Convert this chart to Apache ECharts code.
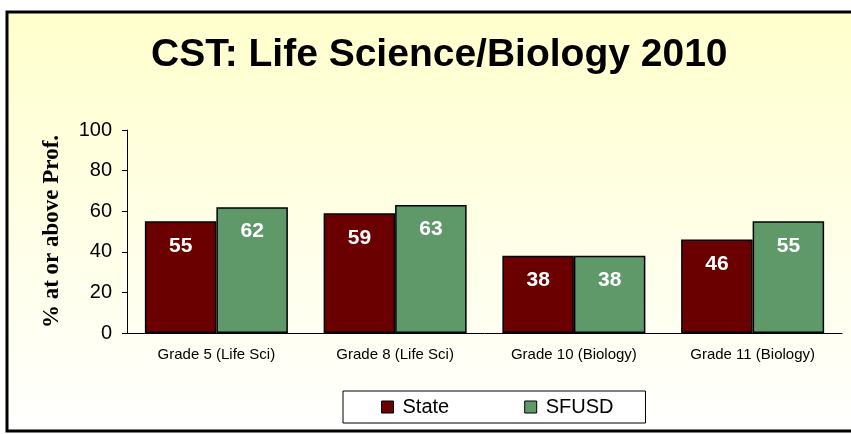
<!DOCTYPE html>
<html>
<head>
<meta charset="utf-8">
<script src="https://cdn.jsdelivr.net/npm/echarts@6/dist/echarts.min.js"></script>
<style>
  html, body { margin: 0; padding: 0; background: #ffffff; }
  #chart { width: 851px; height: 434px; }
</style>
</head>
<body>
<div id="chart"></div>
<script>
// Percent of students scoring at or above Proficient, CST Life Science/Biology 2010
const categories = ['Grade 5 (Life Sci)', 'Grade 8 (Life Sci)', 'Grade 10 (Biology)', 'Grade 11 (Biology)'];
const stateValues = [55, 59, 38, 46];
const sfusdValues = [62, 63, 38, 55];
const yTicks = [0, 20, 40, 60, 80, 100];

const chart = echarts.init(document.getElementById('chart'));

const barLabel = {
  show: true,
  position: 'insideTop',
  distance: 14,
  color: '#ffffff',
  fontFamily: 'Liberation Sans, Arial, sans-serif',
  fontWeight: 'bold',
  fontSize: 21
};

chart.setOption({
  backgroundColor: '#ffffff',
  graphic: [{
    type: 'rect',
    z: -10,
    silent: true,
    shape: { x: 7, y: 12, width: 850, height: 419 },
    style: {
      fill: new echarts.graphic.LinearGradient(0, 0, 0, 1, [
        { offset: 0, color: '#ffffcc' },
        { offset: 1, color: '#ffffff' }
      ]),
      stroke: '#000000',
      lineWidth: 3
    }
  }],
  title: {
    text: 'CST: Life Science/Biology 2010',
    left: 146,
    top: 31,
    textStyle: {
      fontFamily: 'Liberation Sans, Arial, sans-serif',
      fontWeight: 'bold',
      fontSize: 39,
      color: '#000000'
    }
  },
  legend: {
    data: ['State', 'SFUSD'],
    left: 343,
    top: 391,
    itemGap: 75,
    padding: [6, 32, 6, 38],
    borderColor: '#000000',
    borderWidth: 1,
    backgroundColor: '#ffffff',
    itemWidth: 12,
    itemHeight: 12,
    icon: 'rect',
    itemStyle: { borderColor: '#000000', borderWidth: 1 },
    textStyle: {
      fontFamily: 'Liberation Sans, Arial, sans-serif',
      fontSize: 20,
      lineHeight: 20,
      color: '#000000',
      padding: [0, 0, 0, 4]
    }
  },
  grid: {
    left: 127,
    top: 130,
    width: 715,
    height: 203
  },
  xAxis: {
    type: 'category',
    data: categories,
    axisLine: { lineStyle: { color: '#000000', width: 1 } },
    axisTick: { show: false },
    axisLabel: {
      color: '#000000',
      fontFamily: 'Liberation Sans, Arial, sans-serif',
      fontSize: 15,
      margin: 14
    }
  },
  yAxis: {
    type: 'value',
    min: yTicks[0],
    max: yTicks[yTicks.length - 1],
    interval: yTicks[1] - yTicks[0],
    name: '% at or above Prof.',
    nameLocation: 'middle',
    nameGap: 63,
    nameRotate: 90,
    nameTextStyle: {
      fontFamily: 'Liberation Serif, Times New Roman, serif',
      fontWeight: 'bold',
      fontSize: 23,
      color: '#000000'
    },
    axisLine: { show: true, lineStyle: { color: '#000000', width: 1 } },
    axisTick: { show: true, length: 5, lineStyle: { color: '#000000' } },
    splitLine: { show: false },
    axisLabel: {
      color: '#000000',
      fontFamily: 'Liberation Sans, Arial, sans-serif',
      fontSize: 20,
      margin: 15
    }
  },
  series: [
    {
      name: 'State',
      type: 'bar',
      data: stateValues,
      barGap: '0%',
      barCategoryGap: '20%',
      itemStyle: { color: '#6b0000', borderColor: '#000000', borderWidth: 1.5 },
      label: barLabel
    },
    {
      name: 'SFUSD',
      type: 'bar',
      data: sfusdValues,
      itemStyle: { color: '#5f996a', borderColor: '#000000', borderWidth: 1.5 },
      label: barLabel
    }
  ]
});
</script>
</body>
</html>
